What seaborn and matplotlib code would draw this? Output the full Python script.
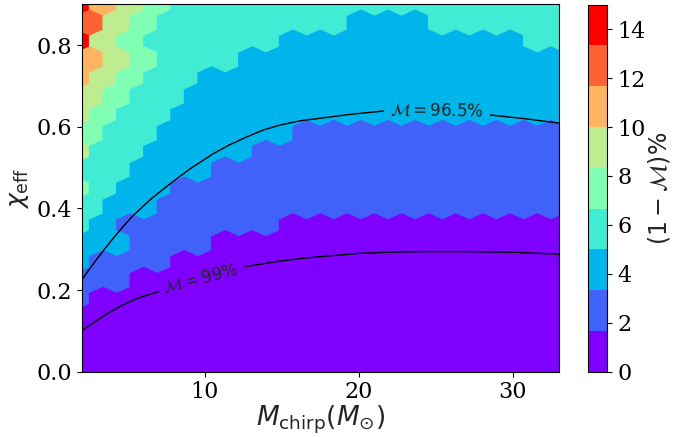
import numpy as np
import matplotlib
matplotlib.use("Agg")
import matplotlib.pyplot as plt
import seaborn as sns

# hexagonal binning of the (M_chirp, chi_eff) scan
mchirp_span = (1.63, 33.37)
chi_span = (0.0, 0.9)
n_hex = 18
n_levels = 9
mismatch_max = 15.0
cbar_ticks = [0, 2, 4, 6, 8, 10, 12, 14]

# (1 - M)% in each hexagon as a colour level 0..8 (each level is 15/9 % wide),
# one string per hexagon column from left to right, read from bottom to top
hex_levels = [
    "00123455688",
    "0012334567",
    "00012334556",
    "0012233455",
    "00011233445",
    "0001223344",
    "00011223334",
    "0001122333",
    "00001122333",
    "0001122233",
    "00001122233",
    "0000112233",
    "00001122233",
    "0000112223",
    "00001112233",
    "0000112223",
    "00000112223",
    "0000111223",
    "00000112223",
    "0000111223",
    "00000112223",
    "0000111222",
    "00000112223",
    "0000111222",
    "00000112223",
    "0000111222",
    "00000112223",
    "0000111223",
    "00000112223",
    "0000111223",
    "00000112223",
    "0000111223",
    "00000112223",
    "0000111223",
    "00000112233",
    "0000111223",
    "00000112233",
]

# match contours, split where the inline label sits
m965_x_a = [2.0, 2.5, 3.0, 3.5, 4.06, 4.7, 5.36, 6.5, 7.63, 9.0, 10.56,
            11.6, 12.74, 13.8, 14.9, 16.2, 17.5, 19.5, 21.62]
m965_y_a = [0.2246, 0.2511, 0.2766, 0.3011, 0.3271, 0.3559, 0.3830, 0.4229,
            0.4568, 0.4959, 0.5341, 0.5554, 0.5753, 0.5920, 0.6041, 0.6145,
            0.6207, 0.6304, 0.6385]
m965_x_b = [28.56, 30.8, 33.12]
m965_y_b = [0.6287, 0.6195, 0.6084]
m99_x_a = [2.0, 2.4, 2.87, 3.4, 4.06, 4.7, 5.36, 6.1, 6.98]
m99_y_a = [0.100, 0.111, 0.1225, 0.136, 0.151, 0.164, 0.1756, 0.186, 0.1955]
m99_x_b = [12.62, 14.9, 16.2, 17.5, 20.11, 22.0, 24.0, 27.26, 30.08, 33.12]
m99_y_b = [0.2572, 0.2711, 0.2770, 0.2817, 0.290, 0.2925, 0.294, 0.294,
           0.2924, 0.2875]

sns.set_style("ticks", {"axes.edgecolor": "black", "xtick.color": "black",
                        "ytick.color": "black", "axes.linewidth": 1.0})
plt.rcParams["font.family"] = ["DejaVu Serif"]
plt.rcParams["mathtext.fontset"] = "dejavusans"
plt.rcParams["xtick.major.size"] = 3.5
plt.rcParams["ytick.major.size"] = 3.5

sx = (mchirp_span[1] - mchirp_span[0]) / n_hex
sy = (chi_span[1] - chi_span[0]) / int(n_hex / np.sqrt(3))

xs, ys, cs = [], [], []
for k, col in enumerate(hex_levels):
    for j, lev in enumerate(col):
        xs.append(mchirp_span[0] + k * sx / 2)
        ys.append(chi_span[0] + (2 * j + k % 2) * sy / 2)
        cs.append((int(lev) + 0.5) * mismatch_max / n_levels)

cmap = plt.get_cmap("rainbow").resampled(n_levels)

fig = plt.figure(figsize=(6.73, 4.37), dpi=100)
ax = fig.add_axes([0.1214, 0.1494, 0.7088, 0.8410])
cax = fig.add_axes([0.8737, 0.1494, 0.0287, 0.8398])

hb = ax.hexbin(xs, ys, C=cs, gridsize=n_hex, reduce_C_function=np.mean,
               extent=(*mchirp_span, *chi_span), cmap=cmap,
               vmin=0, vmax=mismatch_max)

for cx, cy in [(m965_x_a, m965_y_a), (m965_x_b, m965_y_b),
               (m99_x_a, m99_y_a), (m99_x_b, m99_y_b)]:
    ax.plot(cx, cy, color="black", lw=1.0, solid_joinstyle="round")
ax.text(25.08, 0.6397, r"$\mathcal{M} = 96.5\%$", fontsize=12,
        ha="center", va="center", rotation=-1)
ax.text(9.74, 0.227, r"$\mathcal{M} = 99\%$", fontsize=12,
        ha="center", va="center", rotation=14)

ax.set_xlim(2, 33)
ax.set_ylim(0, 0.9)
ax.set_xticks([10, 20, 30])
ax.set_yticks([0.0, 0.2, 0.4, 0.6, 0.8])
ax.tick_params(labelsize=16)
ax.set_xlabel(r"$M_{\rm chirp}(M_{\odot})$", fontsize=19, labelpad=0)
ax.set_ylabel(r"$\chi_{\rm eff}$", fontsize=18)

cb = fig.colorbar(hb, cax=cax, ticks=cbar_ticks)
cb.ax.tick_params(labelsize=16)
cb.set_label(r"$(1-\mathcal{M})\%$", fontsize=17)
cb.ax.yaxis.set_label_coords(3.0, 0.5)

fig.savefig("out.png", dpi=100)
